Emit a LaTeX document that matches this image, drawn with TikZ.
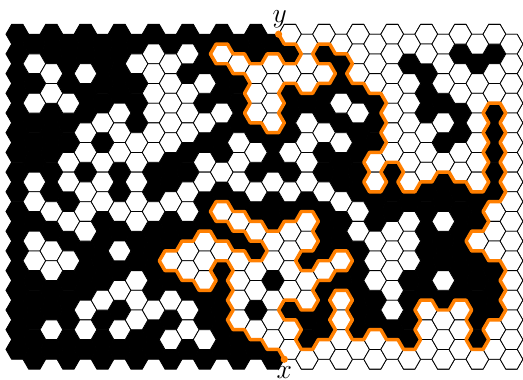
\documentclass[tikz,border=0pt]{standalone}
\usepackage{amsmath}
\usepackage{tikz}
\definecolor{pathorange}{RGB}{255,127,0}
\newcommand{\hexcell}[2]{({#1-2},#2) -- ({#1-1},{#2-1}) -- ({#1+1},{#2-1}) -- ({#1+2},#2) -- ({#1+1},{#2+1}) -- ({#1-1},{#2+1}) -- cycle}
\tikzset{
    blackcell/.style={fill=black, draw=black, line width=0.6pt},
    whitecell/.style={fill=white, draw=black, line width=0.6pt, line join=round},
    explpath/.style={pathorange, line width=2.6pt, line join=round},
    explend/.style={circle, fill=pathorange, inner sep=0pt, minimum size=5.4pt},
    endlabel/.style={font=\huge, inner sep=0pt}
}

\begin{document}
\begin{tikzpicture}[x=4.26pt, y=-7.3875pt]
    \useasboundingbox (-3.046,-3.472) rectangle (89.03,35.005);

    % all cells black first
    \foreach \c in {0,...,29} {
        \foreach \j in {0,...,16} {
            \pgfmathtruncatemacro{\a}{3*\c}
            \pgfmathtruncatemacro{\b}{2*\j+mod(\c,2)}
            \path[blackcell] \hexcell{\a}{\b};
        }
    }

    % white cells, column / rows
    \foreach \c/\rows in {
        1/{1,3,7,8,10,11},
        2/{2,3,9,11,12,15},
        3/{3,6,7,9,11},
        4/{2,5,6,8,9,10,14,15},
        5/{4,6,7,8,13},
        6/{4,5,6,9,11,13,15},
        7/{1,5,6,7,8,9,12,13,14},
        8/{1,2,3,4,5,6,9,14},
        9/{1,2,3,4,5,8,11,13,15},
        10/{1,3,4,5,8,9,11,12,14,15},
        11/{2,4,6,7,10,11,12,15},
        12/{1,4,7,9,11},
        13/{1,5,6,7,9,11,12,13,14},
        14/{2,3,4,6,8,10,12,13,15},
        15/{1,2,3,4,7,10,11,13,14,15},
        16/{0,2,6,8,10,11,12,13,15,16},
        17/{0,1,2,4,5,6,7,9,10,12,13,16},
        18/{0,2,5,8,12,16},
        19/{0,3,5,8,11,13,14,15,16},
        20/{0,1,2,4,9,10,16},
        21/{0,1,2,6,7,10,11,12,15,16},
        22/{0,1,2,3,4,5,6,10,11,12,13,14,16},
        23/{0,2,3,4,5,6,7,9,10,11,16},
        24/{0,1,5,6,7,14,15,16},
        25/{0,1,2,4,6,9,12,14,15,16},
        26/{0,2,3,6,7,14,15,16},
        27/{0,2,3,4,5,6,7,10,16},
        28/{0,2,3,9,10,11,15,16},
        29/{0,1,2,3,4,5,6,7,8,9,10,11,12,13,14,15,16}} {
        \foreach \j in \rows {
            \pgfmathtruncatemacro{\a}{3*\c}
            \pgfmathtruncatemacro{\b}{2*\j+mod(\c,2)}
            \path[whitecell] \hexcell{\a}{\b};
        }
    }

    \node[explend] (ptx) at (47,33) {};
    \node[explend] (pty) at (46,0) {};
    \node[endlabel] (labx) at (47,34.3) {$x$};
    \node[endlabel] (laby) at (46.2,-1.55) {$y$};

    % from x up to y along the black cluster
    \draw[explpath] (ptx.center) -- (46,32) -- (44,32) -- (43,31) -- (41,31) -- (40,30) -- (38,30)
        -- (37,29) -- (38,28) -- (37,27) -- (38,26) -- (37,25) -- (38,24) -- (37,23) -- (35,23)
        -- (34,24) -- (35,25) -- (34,26) -- (32,26) -- (31,25) -- (29,25) -- (28,24) -- (26,24)
        -- (25,23) -- (26,22) -- (28,22) -- (29,21) -- (31,21) -- (32,20) -- (34,20) -- (35,21)
        -- (37,21) -- (38,22) -- (40,22) -- (41,23) -- (43,23) -- (44,22) -- (43,21) -- (41,21)
        -- (40,20) -- (38,20) -- (37,19) -- (35,19) -- (34,18) -- (35,17) -- (37,17) -- (38,18)
        -- (40,18) -- (41,19) -- (43,19) -- (44,20) -- (46,20) -- (47,19) -- (49,19) -- (50,18)
        -- (52,18) -- (53,19) -- (52,20) -- (53,21) -- (52,22) -- (50,22) -- (49,23) -- (50,24)
        -- (52,24) -- (53,23) -- (55,23) -- (56,22) -- (58,22) -- (59,23) -- (58,24) -- (56,24)
        -- (55,25) -- (53,25) -- (52,26) -- (53,27) -- (52,28) -- (50,28) -- (49,27) -- (47,27)
        -- (46,28) -- (47,29) -- (49,29) -- (50,30) -- (49,31) -- (50,32) -- (52,32) -- (53,31)
        -- (55,31) -- (56,30) -- (55,29) -- (56,28) -- (55,27) -- (56,26) -- (58,26) -- (59,27)
        -- (58,28) -- (59,29) -- (58,30) -- (59,31) -- (61,31) -- (62,30) -- (64,30) -- (65,31)
        -- (67,31) -- (68,32) -- (70,32) -- (71,31) -- (70,30) -- (71,29) -- (70,28) -- (71,27)
        -- (73,27) -- (74,28) -- (76,28) -- (77,27) -- (79,27) -- (80,28) -- (79,29) -- (80,30)
        -- (79,31) -- (80,32) -- (82,32) -- (83,31) -- (82,30) -- (83,29) -- (85,29) -- (86,28)
        -- (85,27) -- (86,26) -- (85,25) -- (86,24) -- (85,23) -- (83,23) -- (82,22) -- (80,22)
        -- (79,21) -- (80,20) -- (82,20) -- (83,19) -- (82,18) -- (83,17) -- (85,17) -- (86,16)
        -- (85,15) -- (86,14) -- (85,13) -- (86,12) -- (85,11) -- (86,10) -- (85,9) -- (86,8)
        -- (85,7) -- (83,7) -- (82,8) -- (83,9) -- (82,10) -- (83,11) -- (82,12) -- (83,13)
        -- (82,14) -- (83,15) -- (82,16) -- (80,16) -- (79,15) -- (77,15) -- (76,14) -- (74,14)
        -- (73,15) -- (71,15) -- (70,16) -- (68,16) -- (67,15) -- (68,14) -- (67,13) -- (65,13)
        -- (64,14) -- (65,15) -- (64,16) -- (62,16) -- (61,15) -- (62,14) -- (61,13) -- (62,12)
        -- (64,12) -- (65,11) -- (64,10) -- (65,9) -- (64,8) -- (65,7) -- (64,6) -- (62,6)
        -- (61,5) -- (59,5) -- (58,4) -- (59,3) -- (58,2) -- (56,2) -- (55,1) -- (53,1)
        -- (52,2) -- (53,3) -- (55,3) -- (56,4) -- (55,5) -- (53,5) -- (52,6) -- (50,6)
        -- (49,5) -- (47,5) -- (46,6) -- (47,7) -- (46,8) -- (47,9) -- (46,10) -- (44,10)
        -- (43,9) -- (41,9) -- (40,8) -- (41,7) -- (40,6) -- (41,5) -- (40,4) -- (38,4)
        -- (37,3) -- (35,3) -- (34,2) -- (35,1) -- (37,1) -- (38,2) -- (40,2) -- (41,3)
        -- (43,3) -- (44,2) -- (46,2) -- (47,3) -- (49,3) -- (50,2) -- (49,1) -- (47,1) -- (pty.center);
\end{tikzpicture}
\end{document}
